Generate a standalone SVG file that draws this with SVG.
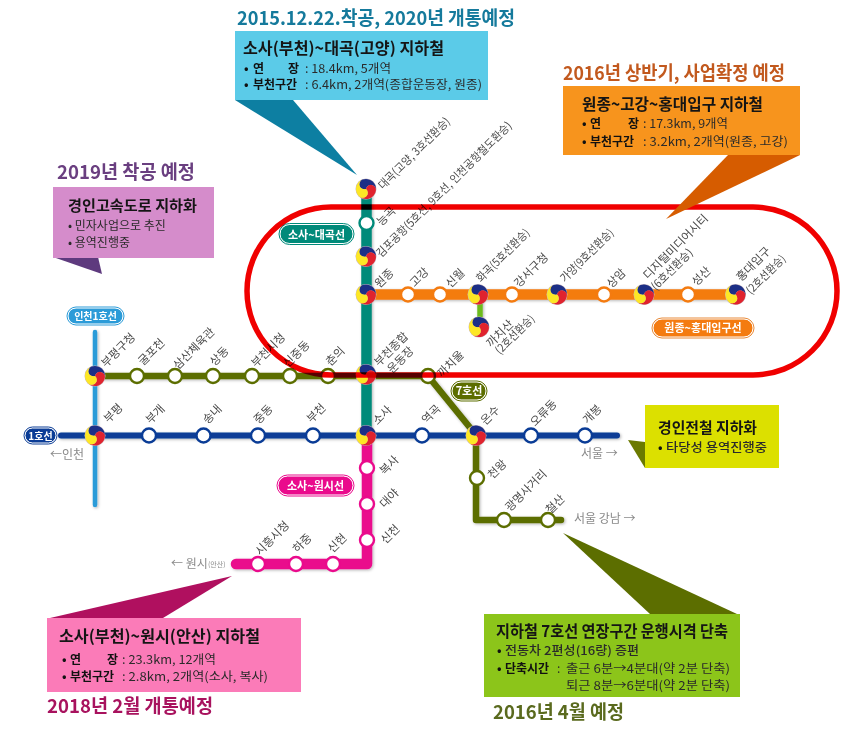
<svg xmlns="http://www.w3.org/2000/svg" width="844" height="731" viewBox="0 0 844 731">
<style>
text{font-family:"Noto Sans CJK KR","Noto Sans",sans-serif}
.h{font-size:19px;font-weight:700}
.b{font-size:16px;font-weight:700;fill:#151515}
.d{font-size:12px;fill:#2a2a2a}
.db{font-size:12px;font-weight:700;fill:#111}
.s{font-size:11.500px;fill:#4a4a4a}
.n{font-size:12px;fill:#8a8a8a}
.p{font-size:11px;font-weight:700;fill:#fff;text-anchor:middle}
.w{fill:#fff;stroke-width:2.4}
.l{fill:none;stroke-linecap:round;stroke-linejoin:round}
</style>
<defs>
<filter id="sh" filterUnits="userSpaceOnUse" x="0" y="0" width="844" height="731"><feDropShadow dx="1" dy="1" stdDeviation="1.5" flood-color="#000" flood-opacity=".3"/></filter>
<g id="tg">
<circle r="10.5" fill="#c9b8c0"/>
<path d="M0,0A5,5 0 0 1 0,-10A10,10 0 0 1 8.66,5A5,5 0 0 0 0,0Z" fill="#1c2f86" transform="rotate(-20)"/>
<path d="M0,0A5,5 0 0 1 0,-10A10,10 0 0 1 8.66,5A5,5 0 0 0 0,0Z" fill="#e0232e" transform="rotate(100)"/>
<path d="M0,0A5,5 0 0 1 0,-10A10,10 0 0 1 8.66,5A5,5 0 0 0 0,0Z" fill="#fde725" transform="rotate(220)"/>
</g>
</defs>
<rect width="844" height="731" fill="#fff"/>

<g id="connectors" filter="url(#sh)">
<path class="l" d="M95,332V505" stroke="#2b9bd8" stroke-width="4.500"/>
<path class="l" d="M61,435.500H617" stroke="#0a3c96" stroke-width="6"/>
<path class="l" d="M366.500,189V435" stroke="#008a7a" stroke-width="10.500" stroke-linecap="butt"/>
<path class="l" d="M366,294.500H735" stroke="#f47b10" stroke-width="10.500" stroke-linecap="butt"/>
<path class="l" d="M480,294V327" stroke="#6dbb1f" stroke-width="5.500" stroke-linecap="butt"/>
<path class="l" d="M95,376H428L476,435V520H561" stroke="#5c6e00" stroke-width="6.500"/>
<path class="l" d="M367,436V564H236" stroke="#ea0a8c" stroke-width="10.500"/>
</g>

<g id="line-labels">
<g id="pill-daegok"><rect x="280" y="224.500" width="73" height="19" rx="9.500" fill="#008a7a" stroke="#fff"/><rect x="279" y="223.500" width="75" height="21" rx="10.500" fill="none" stroke="#008a7a"/><text class="p" x="316.500" y="238.500">소사~대곡선</text></g>
<g id="pill-wonjong"><rect x="653" y="319" width="100" height="18" rx="9" fill="#f47b10" stroke="#fff"/><rect x="652" y="318" width="102" height="20" rx="10" fill="none" stroke="#e88a3a"/><text class="p" x="703" y="332">원종~홍대입구선</text></g>
<g id="pill-incheon1"><rect x="68" y="308" width="55" height="16" rx="8" fill="#2b9bd8" stroke="#fff"/><rect x="67" y="307" width="57" height="18" rx="9" fill="none" stroke="#2b9bd8"/><text class="p" x="95.500" y="320" style="font-size:10px">인천1호선</text></g>
<g id="pill-1"><rect x="25" y="428" width="31" height="15" rx="7.500" fill="#0a3c96" stroke="#fff"/><rect x="24" y="427" width="33" height="17" rx="8.500" fill="none" stroke="#0a3c96"/><text class="p" x="40.500" y="439.500" style="font-size:10px">1호선</text></g>
<g id="pill-7"><rect x="452" y="382" width="34" height="18" rx="9" fill="#5c6e00" stroke="#fff"/><rect x="451" y="381" width="36" height="20" rx="10" fill="none" stroke="#5c6e00"/><text class="p" x="469" y="395">7호선</text></g>
<g id="pill-wonsi"><rect x="278" y="476" width="75" height="19" rx="9.500" fill="#ea0a8c" stroke="#fff"/><rect x="277" y="475" width="77" height="21" rx="10.500" fill="none" stroke="#ea0a8c"/><text class="p" x="315.500" y="490">소사~원시선</text></g>
</g>

<g id="stations">
<g id="st-daegok"><use href="#tg" x="366" y="189"/><text class="s" transform="translate(383 190) rotate(-45)" textLength="96" lengthAdjust="spacingAndGlyphs">대곡(고양, 3호선환승)</text></g>
<g id="st-neunggok"><circle class="w" cx="366.500" cy="223" r="7" stroke="#008a7a"/><text class="s" transform="translate(381.500 226.500) rotate(-45)">능곡</text></g>
<g id="st-gimpo"><use href="#tg" x="366" y="256.500"/><text class="s" transform="translate(381 258) rotate(-45)" textLength="186" lengthAdjust="spacingAndGlyphs">김포공항(5호선, 9호선, 인천공항철도환승)</text></g>
<g id="st-wonjong"><use href="#tg" x="366" y="294.500"/><text class="s" transform="translate(379.500 288.500) rotate(-45)">원종</text></g>
<g id="st-gogang"><circle class="w" cx="408" cy="294.500" r="7" stroke="#f47b10"/><text class="s" transform="translate(414.500 287.500) rotate(-45)">고강</text></g>
<g id="st-sinwol"><circle class="w" cx="440" cy="294.500" r="7" stroke="#f47b10"/><text class="s" transform="translate(450.500 288.500) rotate(-45)">신월</text></g>
<g id="st-hwagok"><use href="#tg" x="478" y="294.500"/><text class="s" transform="translate(481 283) rotate(-45)" textLength="70" lengthAdjust="spacingAndGlyphs">화곡(5호선환승)</text></g>
<g id="st-gangseo"><circle class="w" cx="512" cy="294.500" r="7" stroke="#f47b10"/><text class="s" transform="translate(519 288) rotate(-45)">강서구청</text></g>
<g id="st-gayang"><use href="#tg" x="557" y="294.500"/><text class="s" transform="translate(565 283) rotate(-45)" textLength="70" lengthAdjust="spacingAndGlyphs">가양(9호선환승)</text></g>
<g id="st-sangam"><circle class="w" cx="604" cy="294.500" r="7" stroke="#f47b10"/><text class="s" transform="translate(611.500 288.500) rotate(-45)">상암</text></g>
<g id="st-dmc"><use href="#tg" x="644" y="294.500"/><text class="s" transform="translate(648 280) rotate(-45)" textLength="86" lengthAdjust="spacingAndGlyphs">디지털미디어시티</text><text class="s" transform="translate(656 291) rotate(-45)" textLength="53" lengthAdjust="spacingAndGlyphs">(6호선환승)</text></g>
<g id="st-seongsan"><circle class="w" cx="688" cy="294.500" r="7" stroke="#f47b10"/><text class="s" transform="translate(696.500 286.500) rotate(-45)">성산</text></g>
<g id="st-hongdae"><use href="#tg" x="735.500" y="294.500"/><text class="s" transform="translate(741 282) rotate(-45)" textLength="43" lengthAdjust="spacingAndGlyphs">홍대입구</text><text class="s" transform="translate(751 295) rotate(-45)" textLength="50" lengthAdjust="spacingAndGlyphs">(2호선환승)</text></g>
<g id="st-kkachisan"><use href="#tg" x="479" y="327"/><text class="s" transform="translate(491 348) rotate(-45)" textLength="33" lengthAdjust="spacingAndGlyphs">까치산</text><text class="s" transform="translate(500 355) rotate(-45)" textLength="50" lengthAdjust="spacingAndGlyphs">(2호선환승)</text></g>

<g id="st-bupyeonggu"><use href="#tg" x="95" y="376"/><text class="s" transform="translate(106 368) rotate(-45)">부평구청</text></g>
<g id="st-gulpo"><circle class="w" cx="137" cy="376" r="7" stroke="#5c6e00"/><text class="s" transform="translate(143 366) rotate(-45)">굴포천</text></g>
<g id="st-samsan"><circle class="w" cx="175" cy="376" r="7" stroke="#5c6e00"/><text class="s" transform="translate(178 370) rotate(-45)">삼산체육관</text></g>
<g id="st-sangdong"><circle class="w" cx="213" cy="376" r="7" stroke="#5c6e00"/><text class="s" transform="translate(214.500 366.500) rotate(-45)">상동</text></g>
<g id="st-bucheonsi"><circle class="w" cx="252" cy="376" r="7" stroke="#5c6e00"/><text class="s" transform="translate(256 368) rotate(-45)">부천시청</text></g>
<g id="st-sinjung"><circle class="w" cx="290" cy="376" r="7" stroke="#5c6e00"/><text class="s" transform="translate(288 368) rotate(-45)">신중동</text></g>
<g id="st-chunui"><circle class="w" cx="328" cy="376" r="7" stroke="#5c6e00"/><text class="s" transform="translate(330.500 366.500) rotate(-45)">춘의</text></g>
<g id="st-bucheonjh"><use href="#tg" x="366" y="374.500"/><text class="s" transform="translate(379 367) rotate(-45)">부천종합</text><text class="s" transform="translate(392 374) rotate(-45)">운동장</text></g>
<g id="st-kkachiul"><circle class="w" cx="428" cy="376" r="7" stroke="#5c6e00"/><text class="s" transform="translate(442 378) rotate(-45)">까치울</text></g>

<g id="st-bupyeong"><use href="#tg" x="95" y="435.500"/><text class="s" transform="translate(108.500 423.500) rotate(-45)">부평</text></g>
<g id="st-bugae"><circle class="w" cx="149" cy="435.500" r="7" stroke="#0a3c96"/><text class="s" transform="translate(150.500 424.500) rotate(-45)">부개</text></g>
<g id="st-songnae"><circle class="w" cx="203.500" cy="435.500" r="7" stroke="#0a3c96"/><text class="s" transform="translate(207.500 424.500) rotate(-45)">송내</text></g>
<g id="st-jungdong"><circle class="w" cx="258" cy="435.500" r="7" stroke="#0a3c96"/><text class="s" transform="translate(258.500 424.500) rotate(-45)">중동</text></g>
<g id="st-bucheon"><circle class="w" cx="313" cy="435.500" r="7" stroke="#0a3c96"/><text class="s" transform="translate(311.500 423.500) rotate(-45)">부천</text></g>
<g id="st-sosa"><use href="#tg" x="366" y="435.500"/><text class="s" transform="translate(377.500 425.500) rotate(-45)">소사</text></g>
<g id="st-yeokgok"><circle class="w" cx="422" cy="435.500" r="7" stroke="#0a3c96"/><text class="s" transform="translate(426.500 424.500) rotate(-45)">역곡</text></g>
<g id="st-onsu"><use href="#tg" x="476" y="435.500"/><text class="s" transform="translate(485.500 425.500) rotate(-45)">온수</text></g>
<g id="st-oryu"><circle class="w" cx="531" cy="435.500" r="7" stroke="#0a3c96"/><text class="s" transform="translate(535 427) rotate(-45)">오류동</text></g>
<g id="st-gaebong"><circle class="w" cx="585" cy="435.500" r="7" stroke="#0a3c96"/><text class="s" transform="translate(587.500 424.500) rotate(-45)">개봉</text></g>

<g id="st-cheonwang"><circle class="w" cx="477" cy="478" r="7" stroke="#5c6e00"/><text class="s" transform="translate(492.500 479.500) rotate(-45)">천왕</text></g>
<g id="st-gwangmyeong"><circle class="w" cx="504" cy="520" r="7" stroke="#5c6e00"/><text class="s" transform="translate(510 512) rotate(-45)">광명사거리</text></g>
<g id="st-cheolsan"><circle class="w" cx="548" cy="520" r="7" stroke="#5c6e00"/><text class="s" transform="translate(550.500 514.500) rotate(-45)">철산</text></g>

<g id="st-boksa"><circle class="w" cx="367" cy="468" r="7" stroke="#ea0a8c"/><text class="s" transform="translate(384.500 475.500) rotate(-45)">복사</text></g>
<g id="st-daeya"><circle class="w" cx="367" cy="504" r="7" stroke="#ea0a8c"/><text class="s" transform="translate(384.500 508.500) rotate(-45)">대야</text></g>
<g id="st-sincheon"><circle class="w" cx="367" cy="540" r="7" stroke="#ea0a8c"/><text class="s" transform="translate(385.500 544.500) rotate(-45)">신천</text></g>
<g id="st-sinhyeon"><circle class="w" cx="333" cy="564" r="7" stroke="#ea0a8c"/><text class="s" transform="translate(332.500 553.500) rotate(-45)">신현</text></g>
<g id="st-hajung"><circle class="w" cx="296" cy="564" r="7" stroke="#ea0a8c"/><text class="s" transform="translate(297.500 553.500) rotate(-45)">하중</text></g>
<g id="st-siheung"><circle class="w" cx="258" cy="564" r="7" stroke="#ea0a8c"/><text class="s" transform="translate(260 556) rotate(-45)">시흥시청</text></g>
</g>

<g id="directions">
<text class="n" x="50" y="459">←인천</text>
<text class="n" x="581" y="458">서울 →</text>
<text class="n" x="574" y="523">서울 강남 →</text>
<text class="n" x="171" y="568">← 원시</text>
<text class="n" x="208" y="567" style="font-size:7px">(안산)</text>
</g>

<g id="loop"><rect x="247" y="207" width="590" height="168" rx="84" fill="none" stroke="#f00000" stroke-width="5.500" style="mix-blend-mode:multiply"/></g>

<g id="box-daegok">
<path d="M235,100H293L357,175Z" fill="#0d7fa2"/>
<rect x="235" y="31" width="253" height="69" fill="#5bcbe8"/>
<text class="h" x="237" y="25" fill="#157a9c" textLength="278" lengthAdjust="spacingAndGlyphs">2015.12.22.착공, 2020년 개통예정</text>
<text class="b" x="243" y="54" textLength="201" lengthAdjust="spacingAndGlyphs">소사(부천)~대곡(고양) 지하철</text>
<text class="db" x="244" y="73">•</text><text class="db" x="253" y="73">연</text><text class="db" x="288" y="73">장</text><text class="d" x="305" y="73" textLength="86" lengthAdjust="spacingAndGlyphs">: 18.4km, 5개역</text>
<text class="db" x="244" y="89">•</text><text class="db" x="253" y="89">부천구간</text><text class="d" x="305" y="89" textLength="177" lengthAdjust="spacingAndGlyphs">: 6.4km, 2개역(종합운동장, 원종)</text>
</g>

<g id="box-hongdae">
<path d="M728,155H800L666,219Z" fill="#d65c00"/>
<rect x="563" y="86" width="237" height="69" fill="#f7941d"/>
<text class="h" x="563" y="80" fill="#c2591e" textLength="222" lengthAdjust="spacingAndGlyphs">2016년 상반기, 사업확정 예정</text>
<text class="b" x="582" y="110" textLength="181" lengthAdjust="spacingAndGlyphs">원종~고강~홍대입구 지하철</text>
<text class="db" x="582" y="128">•</text><text class="db" x="590" y="128">연</text><text class="db" x="628" y="128">장</text><text class="d" x="643" y="128" textLength="85" lengthAdjust="spacingAndGlyphs">: 17.3km, 9개역</text>
<text class="db" x="582" y="146">•</text><text class="db" x="590" y="146">부천구간</text><text class="d" x="643" y="146" textLength="145" lengthAdjust="spacingAndGlyphs">: 3.2km, 2개역(원종, 고강)</text>
</g>

<g id="box-gyeongin">
<path d="M53,257H98L102,274Z" fill="#5e3a7e"/>
<rect x="53" y="187" width="161" height="71" fill="#d58ccb"/>
<text class="h" x="57" y="179" fill="#6a3f80" textLength="138" lengthAdjust="spacingAndGlyphs">2019년 착공 예정</text>
<text class="b" x="68" y="211" textLength="129" lengthAdjust="spacingAndGlyphs" style="font-size:15px">경인고속도로 지하화</text>
<text class="d" x="68" y="230">• 민자사업으로 추진</text>
<text class="d" x="68" y="247">• 용역진행중</text>
</g>

<g id="box-wonsi">
<path d="M50,618H163L232,576Z" fill="#b0105f"/>
<rect x="47" y="618" width="254" height="74" fill="#fb7bb8"/>
<text class="b" x="59" y="642" textLength="201" lengthAdjust="spacingAndGlyphs">소사(부천)~원시(안산) 지하철</text>
<text class="db" x="62" y="664">•</text><text class="db" x="70" y="664">연</text><text class="db" x="107" y="664">장</text><text class="d" x="122" y="664" textLength="94" lengthAdjust="spacingAndGlyphs">: 23.3km, 12개역</text>
<text class="db" x="62" y="681">•</text><text class="db" x="70" y="681">부천구간</text><text class="d" x="122" y="681" textLength="146" lengthAdjust="spacingAndGlyphs">: 2.8km, 2개역(소사, 복사)</text>
<text class="h" x="47" y="713" fill="#a8125e" textLength="166" lengthAdjust="spacingAndGlyphs">2018년 2월 개통예정</text>
</g>

<g id="box-line7">
<path d="M650,614H737L563,533Z" fill="#5c6e00"/>
<rect x="484" y="614" width="256" height="83" fill="#8cc51a"/>
<text class="b" x="496" y="637" textLength="232" lengthAdjust="spacingAndGlyphs">지하철 7호선 연장구간 운행시격 단축</text>
<text class="db" x="497" y="655">•</text><text class="d" x="505" y="655" textLength="134" lengthAdjust="spacingAndGlyphs" style="font-weight:500">전동차 2편성(16량) 증편</text>
<text class="db" x="497" y="673">•</text><text class="db" x="505" y="673">단축시간</text><text class="d" x="557" y="673">:</text><text class="d" x="566" y="673" textLength="164" lengthAdjust="spacingAndGlyphs">출근 6분→4분대(약 2분 단축)</text>
<text class="d" x="566" y="690" textLength="164" lengthAdjust="spacingAndGlyphs">퇴근 8분→6분대(약 2분 단축)</text>
<text class="h" x="493" y="719" fill="#5a6a1e" textLength="131" lengthAdjust="spacingAndGlyphs">2016년 4월 예정</text>
</g>

<g id="box-incheon">
<path d="M628,440L645,442V468Z" fill="#6b7a00"/>
<rect x="645" y="405" width="134" height="63" fill="#dce000"/>
<text class="b" x="658" y="433" textLength="99" lengthAdjust="spacingAndGlyphs" style="font-size:15px">경인전철 지하화</text>
<text class="db" x="658" y="452">•</text><text class="d" x="666" y="452" textLength="101" lengthAdjust="spacingAndGlyphs" style="font-weight:500">타당성 용역진행중</text>
</g>
</svg>
